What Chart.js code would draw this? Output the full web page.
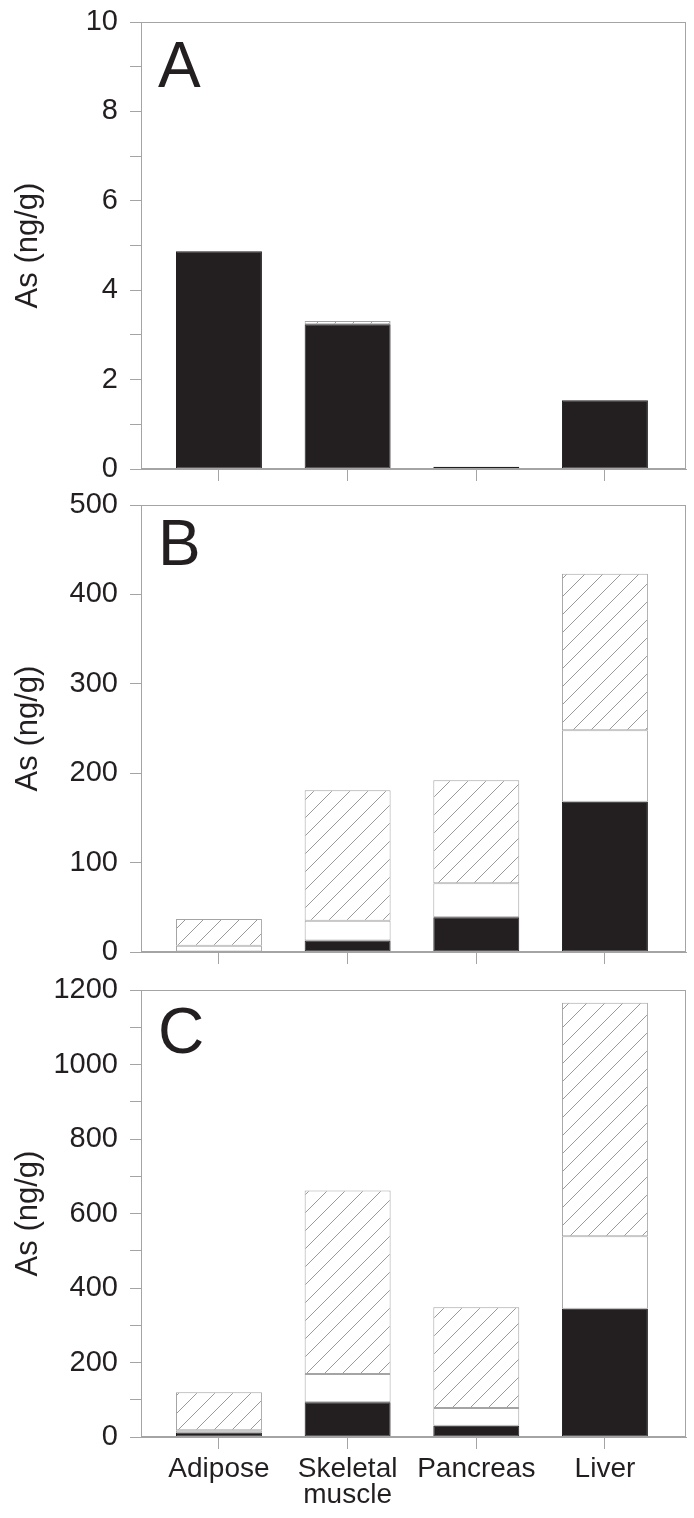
<!DOCTYPE html>
<html><head><meta charset="utf-8">
<script src="https://cdn.jsdelivr.net/npm/chart.js@4.4.1/dist/chart.umd.min.js"></script>
<style>
html,body{margin:0;padding:0;background:#fff}
body{width:694px;height:1518px;position:relative;overflow:hidden}
canvas{position:absolute;left:0;display:block}
</style></head><body>
<canvas id="ca" width="694" height="507" style="top:-8px"></canvas>
<canvas id="cb" width="694" height="507" style="top:475px"></canvas>
<canvas id="cc" width="694" height="558" style="top:960px"></canvas>
<script>
// ---- data ----
const categories = ['Adipose', 'Skeletal muscle', 'Pancreas', 'Liver'];
const seriesNames = ['iAs', 'MMA', 'DMA'];

const panelA_black   = [4.87, 3.24, 0.05, 1.54];
const panelA_white   = [null, null, null, null];
const panelA_hatched = [null, 0.07, null, null];

const panelB_black   = [null, 13, 39, 168];
const panelB_white   = [7, 22, 38, 80];
const panelB_hatched = [30, 146, 115, 175];

const panelC_black   = [12, 93, 30, 344];
const panelC_white   = [6, 76, 48, 195];
const panelC_hatched = [102, 493, 270, 627];

const yLabelsA = [0, 2, 4, 6, 8, 10];
const yLabelsB = [0, 100, 200, 300, 400, 500];
const yLabelsC = [0, 200, 400, 600, 800, 1000, 1200];
const yMinorStepA = 1, yMinorStepB = 100, yMinorStepC = 100;

// ---- styles ----
const FONT = "'Liberation Sans', Arial, Helvetica, sans-serif";
const TEXT = '#231f20';
const GREY = '#a4a4a4';
const BLACK = '#231f20';

function makeHatch(ctx) {
  const s = 18;
  const c = document.createElement('canvas');
  c.width = s; c.height = s;
  const g = c.getContext('2d');
  g.fillStyle = '#ffffff';
  g.fillRect(0, 0, s, s);
  g.strokeStyle = '#8e8e8e';
  g.lineWidth = 0.9;
  g.beginPath();
  g.moveTo(-1, s + 1); g.lineTo(s + 1, -1);
  g.moveTo(-s / 2 - 1, s / 2 + 1); g.lineTo(s / 2 + 1, -s / 2 - 1);
  g.moveTo(s / 2 - 1, s * 1.5 + 1); g.lineTo(s * 1.5 + 1, s / 2 - 1);
  g.stroke();
  return ctx.createPattern(c, 'repeat');
}

const framePlugin = {
  id: 'frame',
  afterDraw(chart, args, opts) {
    const { ctx, chartArea: a } = chart;
    ctx.save();
    ctx.strokeStyle = GREY;
    ctx.lineWidth = 1;
    ctx.strokeRect(Math.round(a.left) + 0.5, Math.round(a.top) + 0.5,
                   Math.round(a.right - a.left) - 1, Math.round(a.bottom - a.top) - 1);
    ctx.fillStyle = TEXT;
    ctx.font = '64px ' + FONT;
    ctx.textBaseline = 'alphabetic';
    ctx.textAlign = 'left';
    ctx.fillText(opts.letter, a.left + opts.dx, a.top + opts.dy);
    ctx.restore();
  }
};

function makePanel(id, black, white, hatched, yLabels, step, letter, dy, padTop, xHeight, showX) {
  const canvas = document.getElementById(id);
  const ctx = canvas.getContext('2d');
  const ymax = yLabels[yLabels.length - 1];
  const minor = [];
  for (let v = 0; v <= ymax + 1e-9; v += step) minor.push(Math.round(v * 1000) / 1000);
  const toXY = arr => arr.map((v, i) => ({ x: i, y: v }));
  const common = { borderWidth: 1, borderSkipped: false,
                   categoryPercentage: 1, barPercentage: 0.668 };
  return new Chart(ctx, {
    type: 'bar',
    data: {
      datasets: [
        Object.assign({ label: seriesNames[0], data: toXY(black), backgroundColor: BLACK, borderColor: BLACK }, common),
        Object.assign({ label: seriesNames[1], data: toXY(white), backgroundColor: '#ffffff', borderColor: GREY }, common),
        Object.assign({ label: seriesNames[2], data: toXY(hatched), backgroundColor: makeHatch(ctx), borderColor: GREY }, common)
      ]
    },
    plugins: [framePlugin],
    options: {
      responsive: false,
      animation: false,
      events: [],
      layout: { padding: { top: padTop, right: 8, left: 0, bottom: 0 } },
      plugins: {
        legend: { display: false },
        tooltip: { enabled: false },
        frame: { letter: letter, dx: 17, dy: dy }
      },
      scales: {
        x: {
          type: 'linear', stacked: true, offset: false,
          min: -0.606, max: 3.63,
          afterBuildTicks: s => { s.ticks = categories.map((c, i) => ({ value: i })); },
          afterFit: s => { s.height = xHeight; },
          grid: { drawOnChartArea: false, drawTicks: true, tickLength: 12, color: GREY, offset: false },
          border: { color: GREY },
          ticks: {
            display: showX, autoSkip: false, maxRotation: 0, minRotation: 0, padding: 8,
            color: TEXT, font: { family: FONT, size: 28, lineHeight: 0.9 },
            callback: v => categories[v] !== undefined ? categories[v].split(' ') : ''
          }
        },
        y: {
          stacked: true, min: 0, max: ymax,
          afterBuildTicks: s => { s.ticks = minor.map(v => ({ value: v })); },
          afterFit: s => { s.width = 141; },
          grid: { drawOnChartArea: false, drawTicks: true, tickLength: 11, color: GREY },
          border: { color: GREY },
          ticks: {
            autoSkip: false, padding: 12, color: TEXT,
            font: { family: FONT, size: 29 },
            callback: v => yLabels.includes(v) ? String(v) : ''
          },
          title: {
            display: true, text: 'As (ng/g)', color: TEXT,
            font: { family: FONT, size: 31 }, padding: { top: 10, bottom: 0 }
          }
        }
      }
    }
  });
}

makePanel('ca', panelA_black, panelA_white, panelA_hatched, yLabelsA, yMinorStepA, 'A', 65, 30, 30, false);
makePanel('cb', panelB_black, panelB_white, panelB_hatched, yLabelsB, yMinorStepB, 'B', 60, 30, 30, false);
makePanel('cc', panelC_black, panelC_white, panelC_hatched, yLabelsC, yMinorStepC, 'C', 63, 30, 81, true);
</script>
</body></html>
